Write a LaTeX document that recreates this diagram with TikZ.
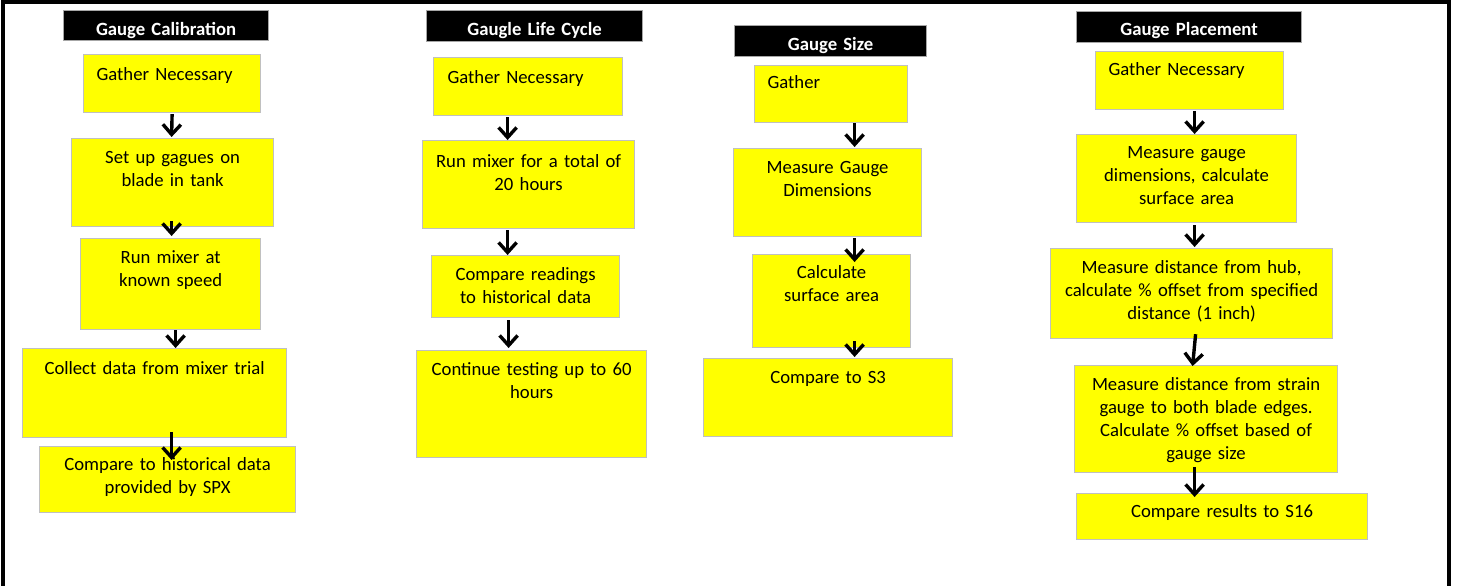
\documentclass[tikz,border=0pt]{standalone}
\usepackage{fontspec}
\setmainfont{Carlito}
\usetikzlibrary{arrows.meta,calc}
\definecolor{boxfill}{HTML}{FFFF00}
\definecolor{boxline}{HTML}{C0C0C0}
\definecolor{headline}{HTML}{A6A6A6}
\newcommand\bodytext{\fontsize{18.7}{23}\selectfont}
\newcommand\headtext{\fontsize{18.7}{22}\selectfont\bfseries}

\begin{document}
\begin{tikzpicture}[x=1pt,y=-1pt,
  stepbox/.style={draw=boxline, fill=boxfill, line width=1.2pt, inner sep=0pt,
    anchor=north west, align=center, font=\bodytext},
  leftbox/.style={stepbox, align=left},
  headbox/.style={draw=headline, fill=black, text=white, line width=1.2pt,
    inner sep=0pt, anchor=north west, align=center, font=\headtext},
  flow/.style={line width=3.4pt, -{Straight Barb[length=10pt,width=18pt]}},
]
\useasboundingbox (0,0) rectangle (1459,586);

% outer frame (open at the bottom)
\draw[line width=4.5pt, line join=miter] (3,586) -- (3,2.25) -- (1449,2.25) -- (1449,586);

% ---- Gauge Calibration ----
\node[headbox, text width=205pt, text height=25pt, text depth=5pt] (h1) at (63,10) {Gauge Calibration};
\node[leftbox, text width=177pt, text height=26pt, text depth=32pt] (b1) at (83,54) {\hspace*{13pt}Gather Necessary};
\node[stepbox, text width=202pt, text height=25pt, text depth=63pt] (b2) at (71,138) {Set up gagues on\\blade in tank};
\node[stepbox, text width=180pt, text height=25pt, text depth=66pt] (b3) at (80,238) {Run mixer at\\known speed};
\node[stepbox, text width=264pt, text height=26pt, text depth=63pt] (b4) at (22,348) {Collect data from mixer trial};
\node[stepbox, text width=256pt, text height=24pt, text depth=42pt] (b5) at (39,446) {Compare to historical data\\provided by SPX};

\draw[flow] ($(b1.south)+(0,1)$) -- ($(b2.north)+(-1,-1)$);
\draw[flow] ($(b2.south)+(-1,-6)$) -- ($(b3.north)+(1,-2)$);
\draw[flow] ($(b3.south)+(5,0)$) -- ($(b4.north)+(21,0)$);
\draw[flow] ($(b4.south)+(17,-6)$) -- ($(b5.north)+(4,14)$);

% ---- Gaugle Life Cycle ----
\node[headbox, text width=216pt, text height=25pt, text depth=6pt] (h2) at (426,10) {Gaugle Life Cycle};
\node[leftbox, text width=189pt, text height=26pt, text depth=32pt] (c1) at (433,57) {\hspace*{14pt}Gather Necessary};
\node[stepbox, text width=212pt, text height=27pt, text depth=61pt] (c2) at (422,140) {Run mixer for a total of\\20 hours};
\node[stepbox, text width=188pt, text height=25pt, text depth=37pt] (c3) at (431,255) {Compare readings\\to historical data};
\node[stepbox, text width=230pt, text height=25pt, text depth=82pt] (c4) at (416,350) {Continue testing up to 60\\hours};

\draw[flow] ($(c1.south)+(-20.5,1)$) -- ($(c2.north)+(-21,0)$);
\draw[flow] ($(c2.south)+(-21,1)$) -- ($(c3.north)+(-18,0)$);
\draw[flow] ($(c3.south)+(-17,2)$) -- ($(c4.north)+(-23,-2)$);

% ---- Gauge Size ----
\node[headbox, text width=192pt, text height=25pt, text depth=6pt] (h3) at (734,25) {Gauge Size};
\node[leftbox, text width=153pt, text height=23pt, text depth=34pt] (d1) at (754,65) {\hspace*{13pt}Gather};
\node[stepbox, text width=188pt, text height=25pt, text depth=63pt] (d2) at (733,148) {Measure Gauge\\Dimensions};
\node[stepbox, text width=158pt, text height=24pt, text depth=69pt] (d3) at (752,254) {Calculate\\surface area};
\node[stepbox, text width=249pt, text height=25pt, text depth=53pt] (d4) at (703,358) {Compare to S3};

\draw[flow] ($(d1.south)+(23.5,0)$) -- ($(d2.north)+(27,-1)$);
\draw[flow] ($(d2.south)+(27,1)$) -- ($(d3.north)+(23,8)$);
\draw[flow] ($(d3.south)+(23,-7)$) -- ($(d4.north)+(26.5,-1)$);

% ---- Gauge Placement ----
\node[headbox, text width=225pt, text height=24pt, text depth=7pt] (h4) at (1076,11) {Gauge Placement};
\node[leftbox, text width=188pt, text height=24pt, text depth=34pt] (e1) at (1095,51) {\hspace*{13pt}Gather Necessary};
\node[stepbox, text width=220pt, text height=24pt, text depth=64pt] (e2) at (1076,134) {Measure gauge\\dimensions, calculate\\surface area};
\node[stepbox, text width=282pt, text height=25pt, text depth=65pt] (e3) at (1050,248) {Measure distance from hub,\\calculate \% offset from specified\\distance (1 inch)};
\node[stepbox, text width=263pt, text height=25pt, text depth=82pt] (e4) at (1074,365) {Measure distance from strain\\gauge to both blade edges.\\Calculate \% offset based of\\gauge size};
\node[stepbox, text width=291pt, text height=24pt, text depth=22pt] (e5) at (1076,493) {Compare results to S16};

\draw[flow] ($(e1.south)+(5,1)$) -- ($(e2.north)+(8,0)$);
\draw[flow] ($(e2.south)+(8,2)$) -- ($(e3.north)+(3,-1)$);
\draw[flow] ($(e3.south)+(4,-5)$) -- ($(e4.north)+(-13.5,1)$);
\draw[flow] ($(e4.south)+(-11.5,-6)$) -- ($(e5.north)+(-27.5,4)$);
\end{tikzpicture}
\end{document}
